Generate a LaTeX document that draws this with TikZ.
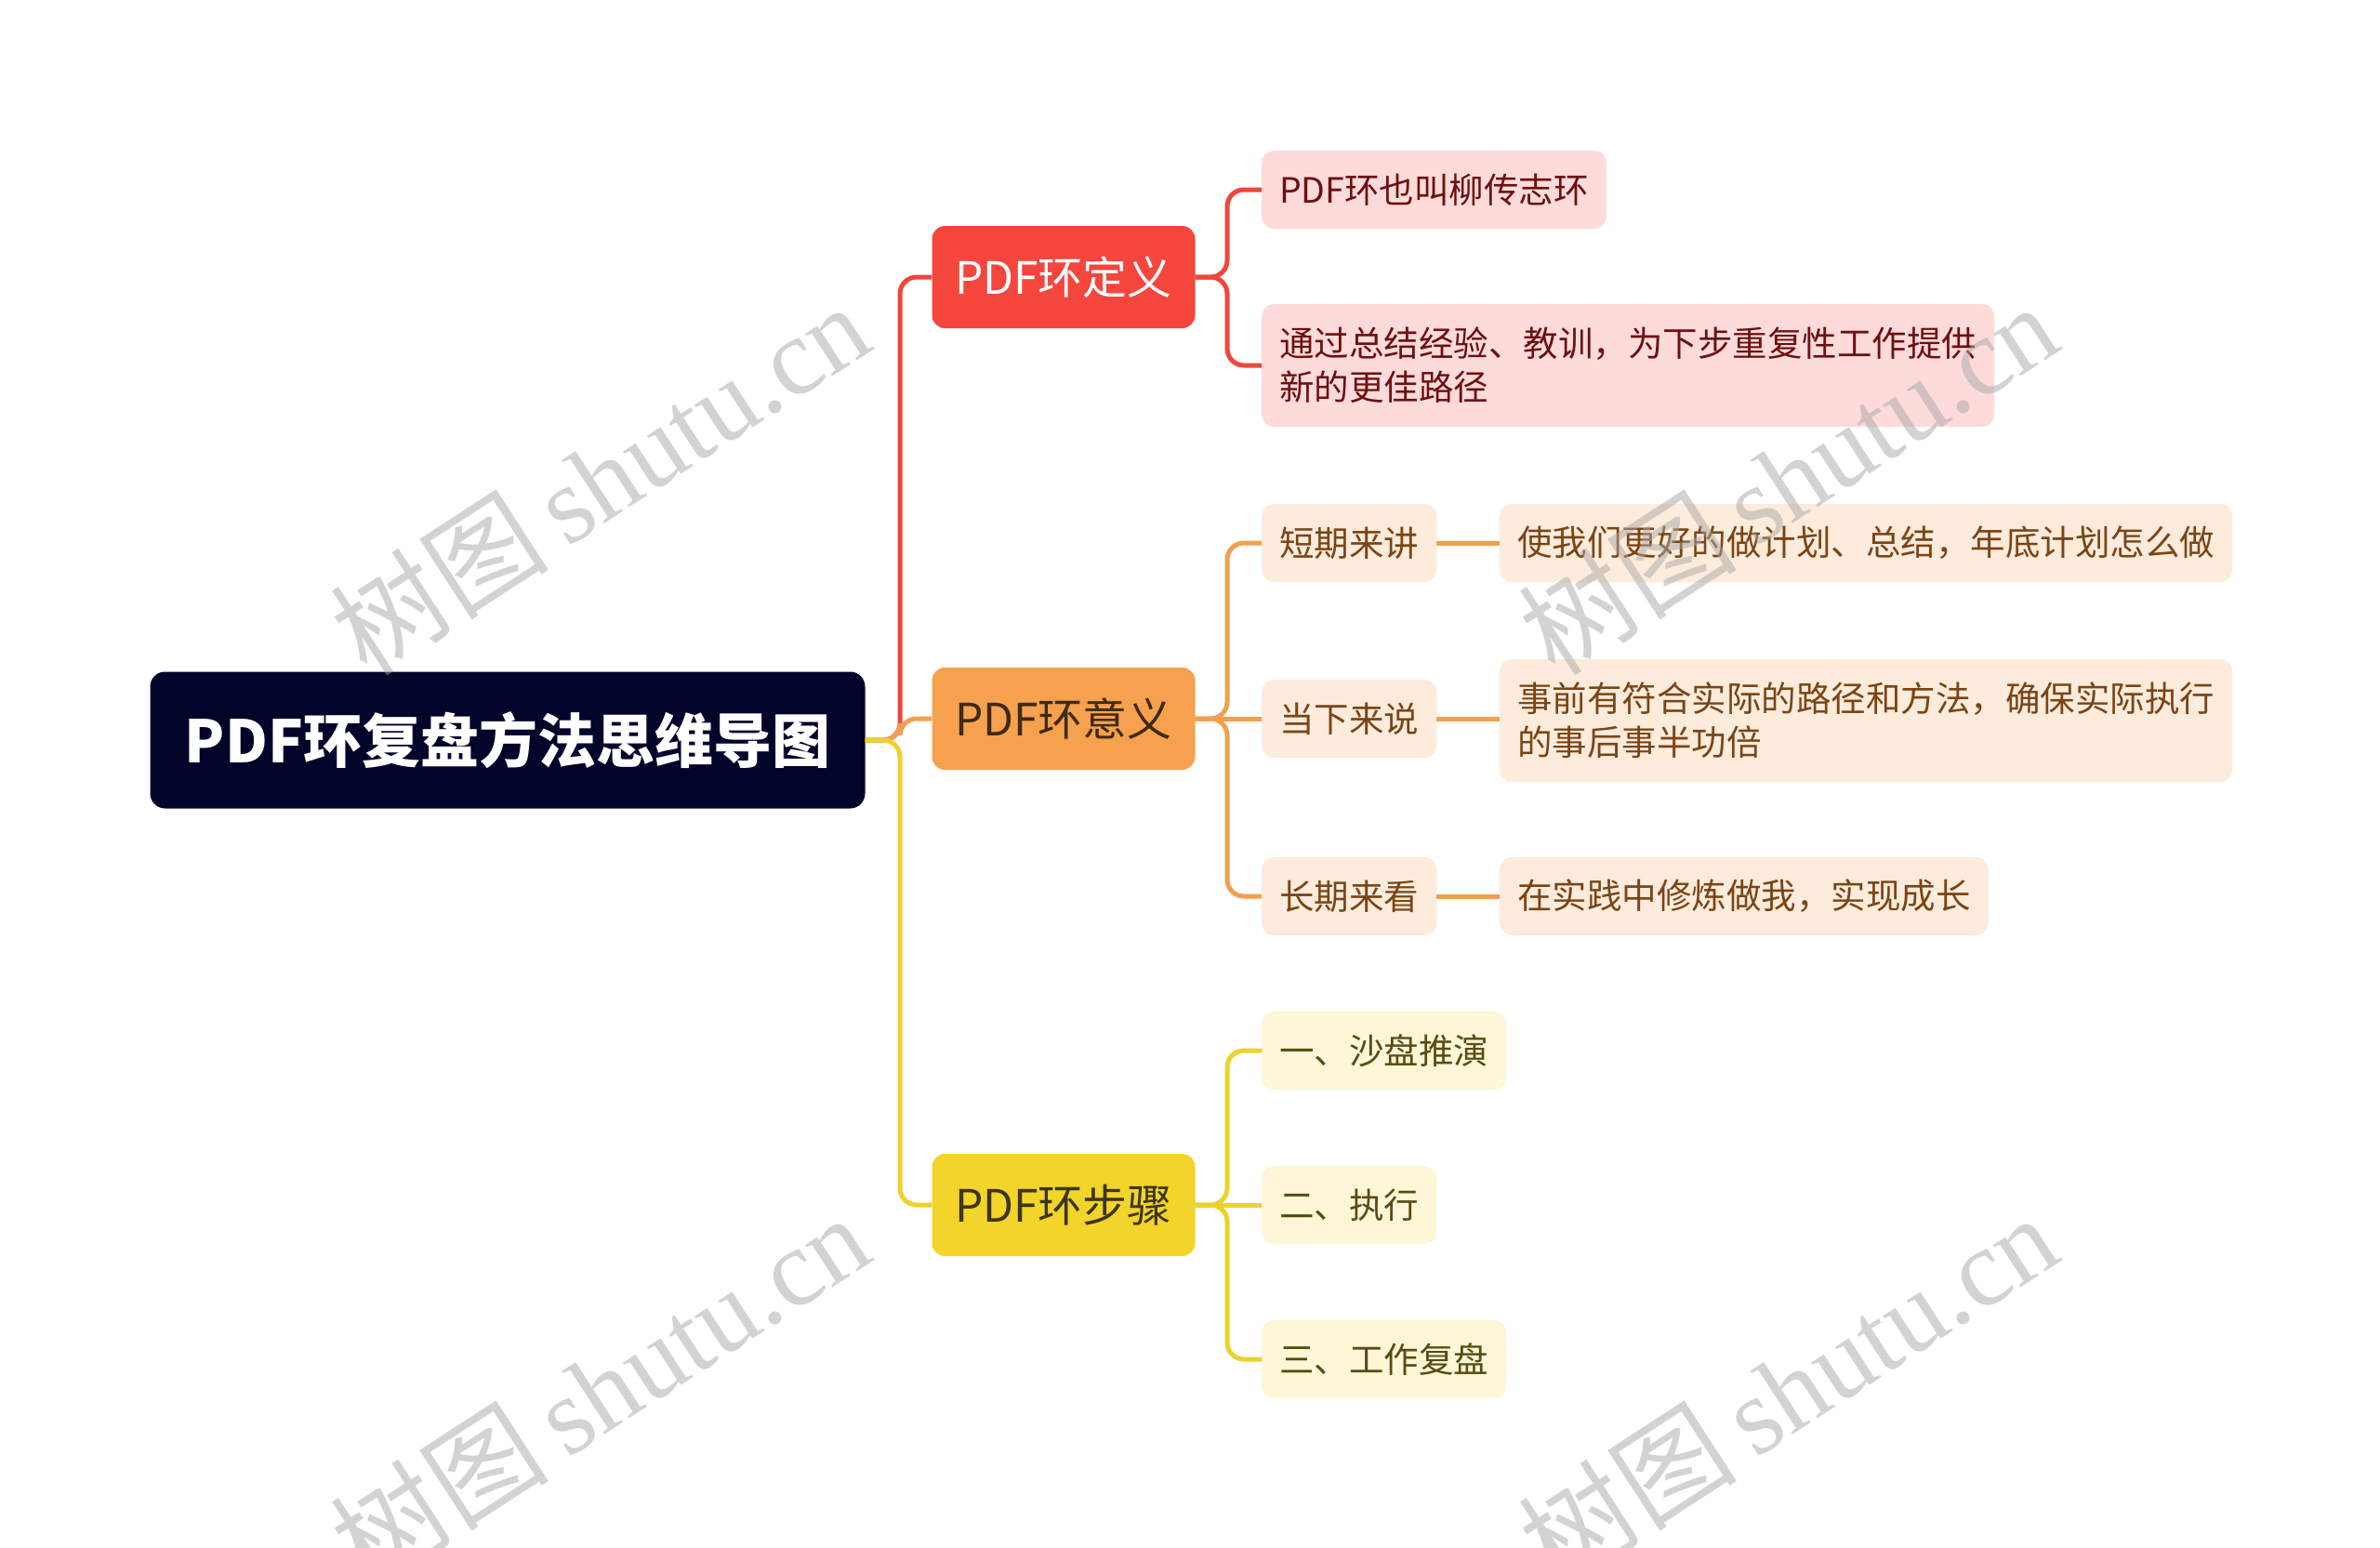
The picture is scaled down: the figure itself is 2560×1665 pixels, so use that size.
\documentclass[tikz,border=0pt]{standalone}
\usepackage{fontspec}
\newfontfamily\cjk{Noto Sans CJK SC}
\newfontfamily\wmlatin{Liberation Serif}
\usetikzlibrary{calc}
\definecolor{rootfill}{HTML}{03042A}
\definecolor{redline}{HTML}{F0463C}
\definecolor{redfill}{HTML}{F5463D}
\definecolor{redsoft}{HTML}{FDDBDB}
\definecolor{redtext}{HTML}{6E1010}
\definecolor{orline}{HTML}{F2A04F}
\definecolor{orfill}{HTML}{F6A14D}
\definecolor{orsoft}{HTML}{FDEBDC}
\definecolor{ortext}{HTML}{7A4515}
\definecolor{ordark}{HTML}{3D2A12}
\definecolor{yeline}{HTML}{EED22C}
\definecolor{yefill}{HTML}{F2D42A}
\definecolor{yesoft}{HTML}{FDF6D7}
\definecolor{yetext}{HTML}{5A4B12}
\definecolor{yedark}{HTML}{3D3512}
\definecolor{wmgray}{HTML}{A8A8A8}
\tikzset{
  rootbox/.style={rounded corners=16pt, fill=rootfill, text=white, minimum width=769pt, minimum height=147pt, inner sep=0pt, font=\cjk\bfseries\fontsize{63}{74}\selectfont},
  topicbox/.style={rounded corners=14pt, minimum width=283pt, minimum height=110pt, inner sep=0pt, font=\cjk\fontsize{48}{56}\selectfont},
  subbox/.style={rounded corners=13pt, anchor=west, minimum height=84pt, inner xsep=19pt, inner ysep=0pt, align=left, font=\cjk\fontsize{37.5}{47}\selectfont},
  link/.style={line width=5pt, rounded corners=18pt},
  wm/.style={rotate=33, text=wmgray, opacity=0.5, font=\fontsize{118}{124}\selectfont}
}
\begin{document}
\begin{tikzpicture}[x=1pt,y=-1pt]
\useasboundingbox[fill=white] (0,0) rectangle (2560,1665);

% root and topics
\node[rootbox] (root) at (546,796) {PDF环复盘方法思维导图};
\node[topicbox, fill=redfill, text=white] (def) at (1144,298) {PDF环定义};
\node[topicbox, fill=orfill, text=ordark] (mean) at (1144,773) {PDF环意义};
\node[topicbox, fill=yefill, text=yedark] (step) at (1144,1296) {PDF环步骤};

% definition children
\node[subbox, fill=redsoft, text=redtext] (d1) at (1357,204) {PDF环也叫柳传志环};
\node[subbox, fill=redsoft, text=redtext, minimum height=132pt] (d2) at (1357,393) {通过总结经验、教训，为下步重复性工作提供\\新的更佳路径};

% meaning children
\node[subbox, fill=orsoft, text=ortext] (m1) at (1357,584) {短期来讲};
\node[subbox, fill=orsoft, text=ortext] (m2) at (1357,773) {当下来说};
\node[subbox, fill=orsoft, text=ortext] (m3) at (1357,964) {长期来看};
\node[subbox, fill=orsoft, text=ortext] (n1) at (1613,584) {使我们更好的做计划、总结，年底计划怎么做};
\node[subbox, fill=orsoft, text=ortext, minimum height=132pt] (n2) at (1613,775) {事前有符合实际的路径和方法，确保实际执行\\的事后事半功倍};
\node[subbox, fill=orsoft, text=ortext] (n3) at (1613,964) {在实践中修炼做我，实现成长};

% step children
\node[subbox, fill=yesoft, text=yetext] (s1) at (1357,1130) {一、沙盘推演};
\node[subbox, fill=yesoft, text=yetext] (s2) at (1357,1296) {二、执行};
\node[subbox, fill=yesoft, text=yetext] (s3) at (1357,1462) {三、工作复盘};

% junction coordinates
\coordinate (trunk) at (968,796);
\coordinate (dj) at (1320,298);
\coordinate (mj) at (1320,773);
\coordinate (sj) at (1320,1296);

% root connectors
\draw[link, redline] (root.east) -- (trunk) |- (def.west);
\draw[link, orline] (root.east) -- (trunk) |- (mean.west);
\draw[link, yeline] (root.east) -- (trunk) |- (step.west);

% definition connectors
\draw[link, redline] (def.east) -- (dj) |- (d1.west);
\draw[link, redline] (def.east) -- (dj) |- (d2.west);

% meaning connectors
\draw[link, orline] (mean.east) -- (mj) |- (m1.west);
\draw[link, orline] (mean.east) -- (m2.west);
\draw[link, orline] (mean.east) -- (mj) |- (m3.west);
\draw[link, orline] (m1.east) -- (n1.west);
\draw[link, orline] (m2.east) -- (m2.east -| n2.west);
\draw[link, orline] (m3.east) -- (n3.west);

% step connectors
\draw[link, yeline] (step.east) -- (sj) |- (s1.west);
\draw[link, yeline] (step.east) -- (s2.west);
\draw[link, yeline] (step.east) -- (sj) |- (s3.west);

% watermarks
\node[wm] (w1) at (645,514) {\cjk 树图\,\wmlatin shutu.cn};
\node[wm] (w2) at (1923,514) {\cjk 树图\,\wmlatin shutu.cn};
\node[wm] (w3) at (645,1494) {\cjk 树图\,\wmlatin shutu.cn};
\node[wm] (w4) at (1923,1494) {\cjk 树图\,\wmlatin shutu.cn};
\end{tikzpicture}
\end{document}
